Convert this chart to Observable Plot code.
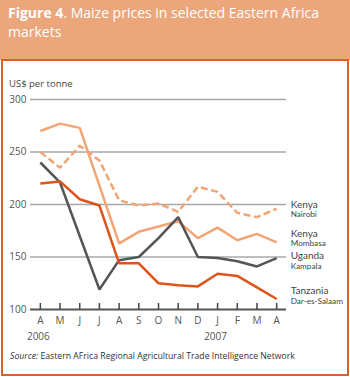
<!DOCTYPE html>
<html>
<head>
<meta charset="utf-8">
<script src="https://cdn.jsdelivr.net/npm/d3@7"></script>
<script src="https://cdn.jsdelivr.net/npm/@observablehq/plot@0.6"></script>
<style>
  body { margin: 0; background: #fff; }
  #wrap { position: relative; width: 350px; height: 377px; background: #fff; font-family: "Open Sans", sans-serif; overflow: hidden; }
  #header { position: absolute; left: 0; top: 0; width: 350px; height: 60px; background: #EBA77B; }
  #title { position: absolute; left: 8px; top: 3px; width: 336px; color: #fff; font-size: 14px; line-height: 19px; }
  #title div { white-space: nowrap; }
  #title b { font-weight: 700; }
  #box { position: absolute; left: 1px; top: 59px; width: 344px; height: 313px; border: 2px solid #E0601F; }
  #unit { position: absolute; left: 9px; top: 77px; font-size: 9.5px; color: #444; }
  #chart { position: absolute; left: 0; top: 60px; }
  #source { position: absolute; left: 10px; top: 350px; font-size: 8.7px; color: #333; white-space: nowrap; }
</style>
</head>
<body>
<div id="wrap">
  <div id="header"><div id="title"><div><b>Figure 4</b><span>. Maize prices in selected Eastern Africa</span></div><div>markets</div></div></div>
  <div id="box"></div>
  <div id="unit">US$ per tonne</div>
  <div id="chart"></div>
  <div id="source"><i>Source:</i> Eastern AFrica Regional Agricultural Trade Intelligence Network</div>
</div>
<script>
const monthLabels = ["A","M","J","J","A","S","O","N","D","J","F","M","A"];
const years = [{i: 0, label: "2006"}, {i: 9, label: "2007"}];
const yTicks = [100, 150, 200, 250, 300];

const kenyaNairobi   = [250, 235, 256, 242, 204, 199, 201, 193, 217, 212, 192, 188, 196];
const kenyaMombasa   = [270, 277, 273, 218, 163, 174, 179, 184, 168, 178, 166, 172, 164];
const ugandaKampala  = [240, 221, 170, 119, 147, 150, 168, 188, 150, 149, 146, 141, 149];
const tanzaniaDar    = [220, 222, 205, 199, 144, 144, 125, 123, 122, 134, 132, 121, 110];

const seriesNames = ["Kenya Nairobi", "Kenya Mombasa", "Uganda Kampala", "Tanzania Dar-es-Salaam"];
const countries = ["Kenya", "Kenya", "Uganda", "Tanzania"];
const cities = ["Nairobi", "Mombasa", "Kampala", "Dar-es-Salaam"];
const seriesValues = [kenyaNairobi, kenyaMombasa, ugandaKampala, tanzaniaDar];

// styles
const colors = {"Kenya Nairobi": "#F2A574", "Kenya Mombasa": "#F2A574", "Uganda Kampala": "#555555", "Tanzania Dar-es-Salaam": "#DD5519"};
const dashes = {"Kenya Nairobi": "7,3.5"};
const labelDy = {"Kenya Nairobi": [-4, 6], "Kenya Mombasa": [-9, 1], "Uganda Kampala": [-2, 8], "Tanzania Dar-es-Salaam": [-8, 2]};

const rows = [];
seriesNames.forEach((s, k) => seriesValues[k].forEach((v, i) => rows.push({series: s, i, value: v})));
const ends = seriesNames.map((s, k) => ({series: s, country: countries[k], city: cities[k], i: 12, value: seriesValues[k][12]}));

const drawOrder = ["Kenya Mombasa", "Kenya Nairobi", "Uganda Kampala", "Tanzania Dar-es-Salaam"];

const marks = [
  Plot.gridY({ticks: [150, 200, 250, 300], stroke: "#A8A8A8", strokeOpacity: 1, strokeWidth: 1.5}),
  Plot.axisY({ticks: yTicks, tickSize: 0, tickPadding: 4, fontSize: 10, fill: "#555", label: null}),
  Plot.ruleY([100], {stroke: "#555", strokeWidth: 2}),
  Plot.axisX({ticks: d3.range(13), tickSize: -6, tickFormat: () => "", stroke: "#444", strokeWidth: 1.5, label: null}),
  Plot.axisX({ticks: d3.range(13), tickSize: 0, tickPadding: 7, tickFormat: i => monthLabels[i], fontSize: 10, fill: "#555", label: null}),
  Plot.text(years, {x: "i", text: "label", frameAnchor: "bottom", dy: 30, dx: -2, fontSize: 10, fill: "#555"}),
  ...drawOrder.map(s => Plot.lineY(rows.filter(r => r.series === s), {
    x: "i", y: "value", stroke: colors[s], strokeWidth: 2.5,
    strokeDasharray: dashes[s] || null, strokeLinejoin: "miter", strokeLinecap: "butt"
  })),
  ...ends.map(e => Plot.text([e], {x: "i", y: "value", text: "country", dx: 14, dy: labelDy[e.series][0], textAnchor: "start", fontSize: 10, fontFamily: "Lato", fill: "#444"})),
  ...ends.map(e => Plot.text([e], {x: "i", y: "value", text: "city", dx: 14, dy: labelDy[e.series][1], textAnchor: "start", fontSize: 8.2, fontFamily: "Lato", fill: "#444"}))
];

const chart = Plot.plot({
  width: 350,
  height: 290,
  marginTop: 39,
  marginBottom: 41,
  marginLeft: 30,
  marginRight: 64,
  style: {fontFamily: "'Open Sans', sans-serif", background: "transparent", overflow: "visible"},
  x: {type: "linear", domain: [-0.5, 12.5], axis: null},
  y: {domain: [100, 300], axis: null},
  marks
});
document.getElementById("chart").appendChild(chart);
</script>
</body>
</html>
